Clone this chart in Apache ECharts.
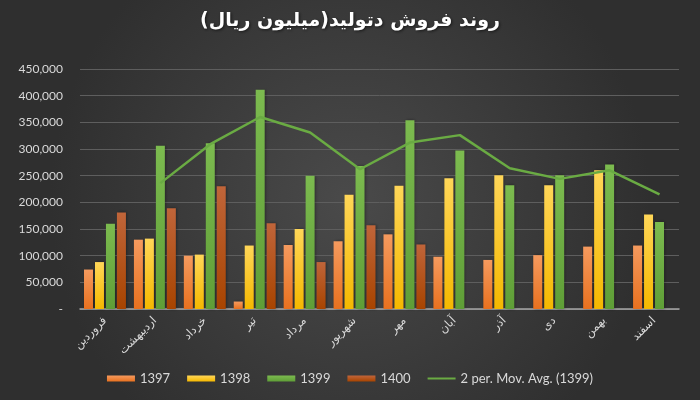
<!DOCTYPE html>
<html><head><meta charset="utf-8">
<script src="https://cdn.jsdelivr.net/npm/echarts@6/dist/echarts.min.js"></script>
<style>html,body{margin:0;padding:0;background:#3a3a3a}#c{width:700px;height:400px}</style>
</head><body><div id="c"></div>
<script>
const categories = ['فروردین','اردیبهشت','خرداد','تیر','مرداد','شهریور','مهر','آبان','آذر','دی','بهمن','اسفند'];
const s1397 = [74000,130000,100000,14000,120000,127000,140000,98000,92000,101000,117000,119000];
const s1398 = [88000,132000,102000,119000,150000,214000,231000,245000,251000,232000,260000,177000];
const s1399 = [160000,306000,311000,411000,250000,268000,354000,297000,232000,251000,271000,163000];
const s1400 = [181000,189000,230000,161000,88000,157000,121000,null,null,null,null,null];
const movAvg1399 = [null,236000,309000,360000,331000,262000,312000,326000,264000,244000,260000,215000];
const yTicks = {min:0,max:450000,interval:50000};

const chart = echarts.init(document.getElementById('c'));
const grad = (t,b)=>({type:'linear',x:0,y:0,x2:0,y2:1,colorStops:[{offset:0,color:t},{offset:1,color:b}]});
const txt = '#d9d9d9';
const barBase = {type:'bar',xAxisIndex:0,yAxisIndex:0,barGap:'22%',barCategoryGap:'16%'};
chart.setOption({
  backgroundColor:{type:'radial',x:0.5,y:0.5,r:0.75,colorStops:[{offset:0,color:'#4a4a4a'},{offset:1,color:'#2f2f2f'}]},
  animation:false,
  title:{text:'روند فروش دتولید(میلیون ریال)',left:'center',top:7,textStyle:{color:'#ffffff',fontSize:19,fontWeight:'bold',fontFamily:'DejaVu Sans',textShadowColor:'rgba(0,0,0,0.6)',textShadowBlur:3,textShadowOffsetX:1,textShadowOffsetY:1}},
  legend:{bottom:10,left:'center',itemWidth:28,itemHeight:6,itemGap:17,textStyle:{color:txt,fontSize:13,fontFamily:'Lato'},
    data:[{name:'1397',icon:'rect'},{name:'1398',icon:'rect'},{name:'1399',icon:'rect'},{name:'1400',icon:'rect'},
          {name:'2 per. Mov. Avg. (1399)',icon:'path://M0,0 L28,0 L28,2 L0,2 Z'}]},
  grid:[{left:80,right:21,top:69,bottom:91},{left:85.5,right:15.5,top:69,bottom:91}],
  xAxis:[
    {type:'category',gridIndex:0,data:categories,axisLine:{lineStyle:{color:'#a6a6a6',width:1.5}},axisTick:{show:false},
     axisLabel:{rotate:45,color:txt,fontSize:11.5,fontFamily:'DejaVu Sans',margin:10,interval:0}},
    {type:'category',gridIndex:1,data:categories,show:false}
  ],
  yAxis:[
    {type:'value',gridIndex:0,min:yTicks.min,max:yTicks.max,interval:yTicks.interval,axisLine:{show:false},axisTick:{show:false},
     splitLine:{lineStyle:{color:'#5e5e5e',width:1}},
     axisLabel:{color:txt,fontSize:12,fontFamily:'Lato',margin:17,formatter:v=>v===0?'-':v.toLocaleString('en-US')}},
    {type:'value',gridIndex:1,min:yTicks.min,max:yTicks.max,show:false}
  ],
  series:[
    Object.assign({},barBase,{name:'1397',data:s1397,itemStyle:{color:grad('#f59a5e','#e8711f'),shadowColor:'rgba(0,0,0,0.4)',shadowBlur:3,shadowOffsetX:1}}),
    Object.assign({},barBase,{name:'1398',data:s1398,itemStyle:{color:grad('#ffd658','#f5b800'),shadowColor:'rgba(0,0,0,0.4)',shadowBlur:3,shadowOffsetX:1}}),
    Object.assign({},barBase,{name:'1399',data:s1399,itemStyle:{color:grad('#7cbb4f','#5f9e37'),shadowColor:'rgba(0,0,0,0.4)',shadowBlur:3,shadowOffsetX:1}}),
    Object.assign({},barBase,{name:'1400',data:s1400,itemStyle:{color:grad('#c0653a','#a84400'),shadowColor:'rgba(0,0,0,0.4)',shadowBlur:3,shadowOffsetX:1}}),
    {type:'line',name:'2 per. Mov. Avg. (1399)',xAxisIndex:1,yAxisIndex:1,data:movAvg1399,symbol:'none',connectNulls:false,
     lineStyle:{color:'#6aab43',width:2.5},itemStyle:{color:'#6aab43'}}
  ]
});
</script></body></html>
